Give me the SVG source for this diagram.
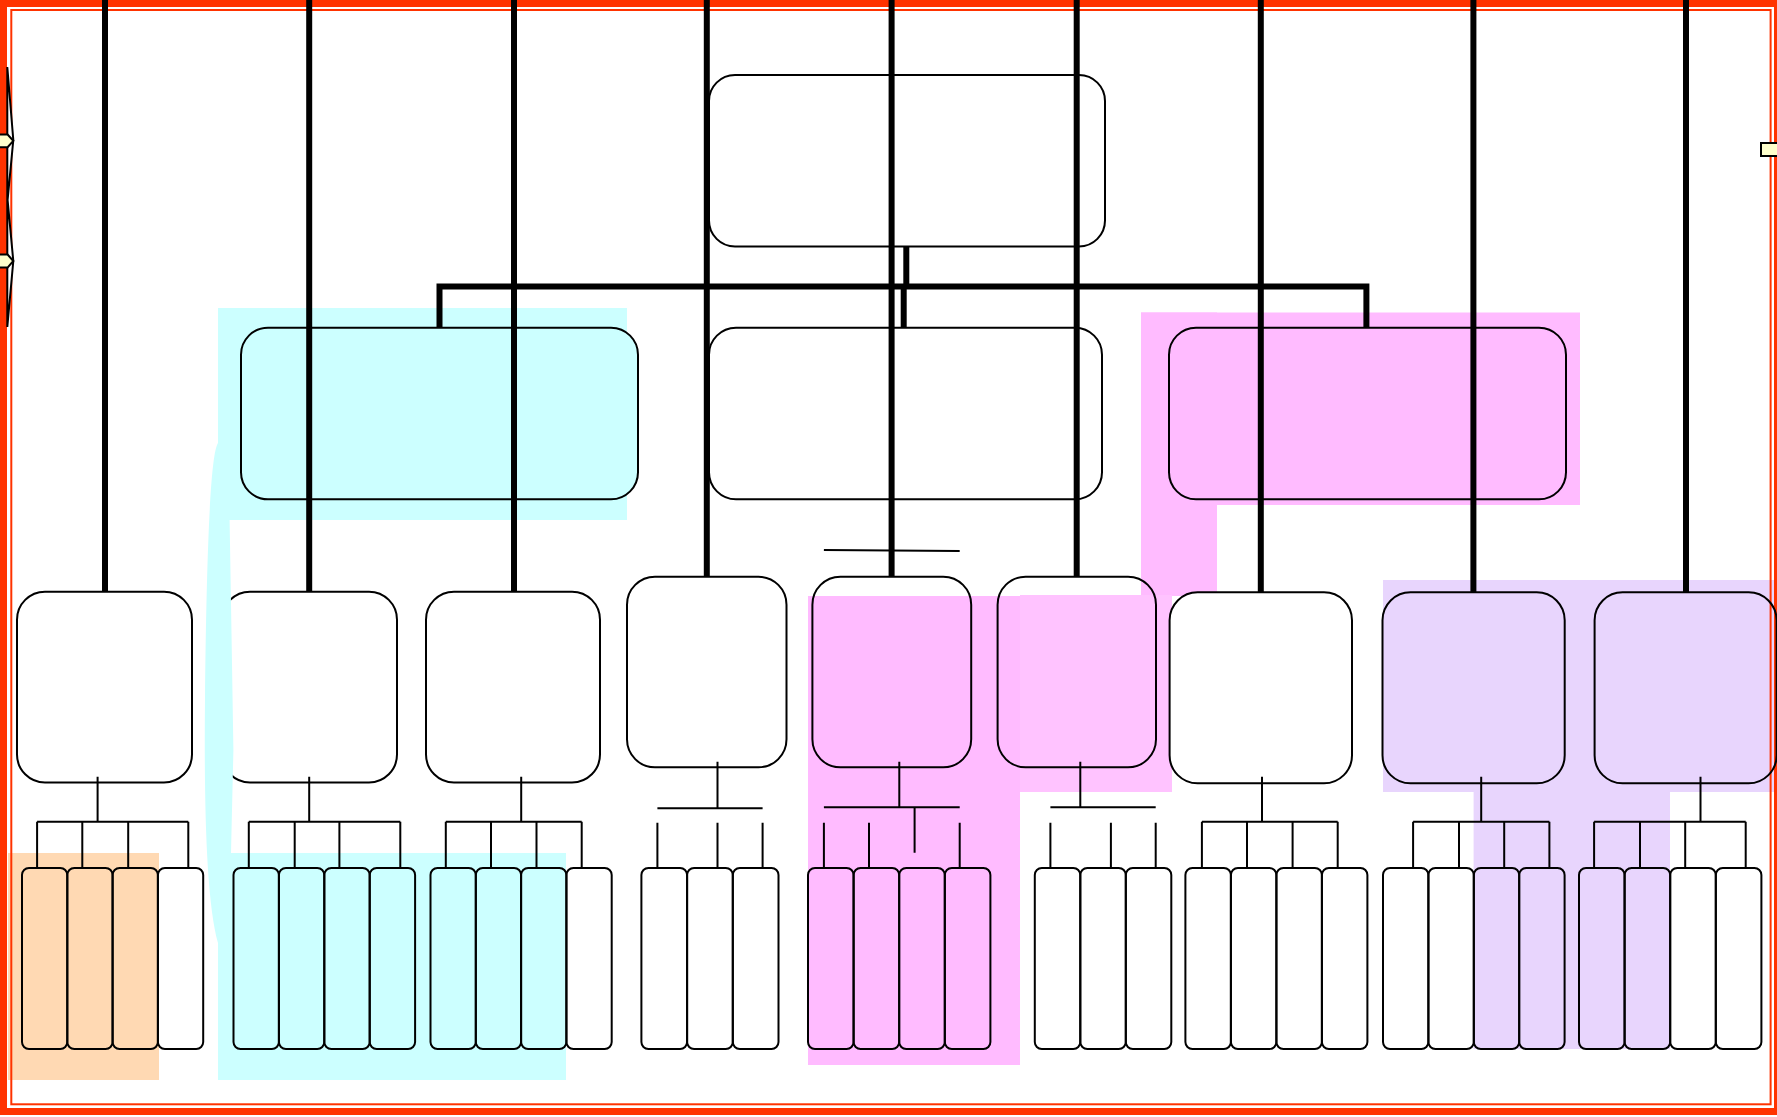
<svg xmlns="http://www.w3.org/2000/svg" width="1777" height="1117" viewBox="0 0 1777 1117">
<style>
.thick{stroke:#000;stroke-width:6;fill:none;stroke-linejoin:miter;stroke-linecap:butt}
.thin{stroke:#000;stroke-width:2;fill:none;stroke-linecap:butt}
.box{stroke:#000;stroke-width:2}
.w{fill:#fff}
.n{fill:none}
.cyan{fill:#CCFFFF}
.pink{fill:#FFBBFF}
.pink2{fill:#FFC3FF}
.lav{fill:#E8D5FD}
.peach{fill:#FFD9B3}
.tab{fill:#FFFFCC;stroke:#000;stroke-width:2}
</style>
<rect x="0" y="0" width="1777" height="1117" fill="#fff"/>
<g id="regions">
  <rect class="cyan" x="218" y="308" width="409" height="212"/>
  <rect class="cyan" x="218" y="853" width="348" height="227"/>
  <rect class="peach" x="8" y="853" width="151" height="227"/>
  <rect class="pink" x="1141" y="312.5" width="439" height="192.5"/>
  <rect class="pink" x="1141" y="312.5" width="76" height="283.5"/>
  <rect class="pink" x="808" y="596" width="212" height="469"/>
  <rect class="pink2" x="1020" y="595" width="152" height="197"/>
  <rect class="lav" x="1383" y="580" width="394" height="212"/>
  <rect class="lav" x="1473.6" y="580" width="196.4" height="469"/>
</g>
<g id="border">
  <rect x="3.5" y="3.5" width="1774" height="1108" fill="none" stroke="#FF3300" stroke-width="7"/>
  <rect x="11.3" y="10" width="1759.3" height="1094.3" fill="none" stroke="#FF3300" stroke-width="2"/>
</g>
<g id="root"><rect class="box w" x="709" y="75" width="396" height="171.5" rx="26"/></g>
<g id="l2-left"><rect class="box cyan" x="241" y="327.7" width="397" height="171.6" rx="27"/></g>
<g id="l2-mid"><rect class="box w" x="709" y="327.7" width="393" height="171.6" rx="27"/></g>
<g id="l2-right"><rect class="box pink" x="1169" y="327.7" width="397" height="171.6" rx="27"/></g>
<g id="n1"><rect class="box w" x="17" y="591.7" width="175" height="190.8" rx="28"/></g>
<g id="n2"><rect class="box w" x="222" y="591.7" width="175" height="190.8" rx="28"/></g>
<g id="n3"><rect class="box w" x="426" y="591.7" width="174" height="190.8" rx="28"/></g>
<g id="n4"><rect class="box w" x="627" y="576.7" width="159.5" height="190.6" rx="28"/></g>
<g id="n5"><rect class="box n" x="812.4" y="576.7" width="158.8" height="190.6" rx="28"/></g>
<g id="n6"><rect class="box n" x="997.6" y="576.7" width="158.4" height="190.6" rx="28"/></g>
<g id="n7"><rect class="box w" x="1169.6" y="592.3" width="182.4" height="191" rx="28"/></g>
<g id="n8"><rect class="box n" x="1382.5" y="592.3" width="182.2" height="191" rx="28"/></g>
<g id="n9"><rect class="box n" x="1594.6" y="592.3" width="182" height="191" rx="28"/></g>
<g id="leaves-1">
  <rect class="box n" x="22" y="868" width="45.3" height="181" rx="7"/>
  <rect class="box n" x="67.3" y="868" width="45.3" height="181" rx="7"/>
  <rect class="box n" x="112.6" y="868" width="45.3" height="181" rx="7"/>
  <rect class="box n" x="157.9" y="868" width="45.3" height="181" rx="7"/>
</g>
<g id="leaves-2">
  <rect class="box n" x="233.5" y="868" width="45.4" height="181" rx="7"/>
  <rect class="box n" x="278.9" y="868" width="45.4" height="181" rx="7"/>
  <rect class="box n" x="324.3" y="868" width="45.4" height="181" rx="7"/>
  <rect class="box n" x="369.7" y="868" width="45.4" height="181" rx="7"/>
</g>
<g id="leaves-3">
  <rect class="box n" x="430.5" y="868" width="45.3" height="181" rx="7"/>
  <rect class="box n" x="475.8" y="868" width="45.3" height="181" rx="7"/>
  <rect class="box n" x="521.1" y="868" width="45.3" height="181" rx="7"/>
  <rect class="box n" x="566.4" y="868" width="45.3" height="181" rx="7"/>
</g>
<g id="leaves-4">
  <rect class="box n" x="641.4" y="868" width="45.7" height="181" rx="7"/>
  <rect class="box n" x="687.1" y="868" width="45.7" height="181" rx="7"/>
  <rect class="box n" x="732.8" y="868" width="45.7" height="181" rx="7"/>
</g>
<g id="leaves-5">
  <rect class="box n" x="808" y="868" width="45.6" height="181" rx="7"/>
  <rect class="box n" x="853.6" y="868" width="45.6" height="181" rx="7"/>
  <rect class="box n" x="899.2" y="868" width="45.6" height="181" rx="7"/>
  <rect class="box n" x="944.8" y="868" width="45.6" height="181" rx="7"/>
</g>
<g id="leaves-6">
  <rect class="box n" x="1034.8" y="868" width="45.5" height="181" rx="7"/>
  <rect class="box n" x="1080.3" y="868" width="45.5" height="181" rx="7"/>
  <rect class="box n" x="1125.8" y="868" width="45.5" height="181" rx="7"/>
</g>
<g id="leaves-7">
  <rect class="box n" x="1185.4" y="868" width="45.5" height="181" rx="7"/>
  <rect class="box n" x="1230.9" y="868" width="45.5" height="181" rx="7"/>
  <rect class="box n" x="1276.4" y="868" width="45.5" height="181" rx="7"/>
  <rect class="box n" x="1321.9" y="868" width="45.5" height="181" rx="7"/>
</g>
<g id="leaves-8">
  <rect class="box n" x="1383" y="868" width="45.4" height="181" rx="7"/>
  <rect class="box n" x="1428.4" y="868" width="45.4" height="181" rx="7"/>
  <rect class="box n" x="1473.8" y="868" width="45.4" height="181" rx="7"/>
  <rect class="box n" x="1519.2" y="868" width="45.4" height="181" rx="7"/>
</g>
<g id="leaves-9">
  <rect class="box n" x="1579" y="868" width="45.6" height="181" rx="7"/>
  <rect class="box n" x="1624.6" y="868" width="45.6" height="181" rx="7"/>
  <rect class="box n" x="1670.2" y="868" width="45.6" height="181" rx="7"/>
  <rect class="box n" x="1715.8" y="868" width="45.6" height="181" rx="7"/>
</g>
<g id="region-cyan-bracket">
  <path class="cyan" d="M218,443 C210,455 206.5,560 205,700 C204,800 206,900 218,943 L218,853 L231,853 L233.4,750 L231.5,633 L229.6,520 L218,520 Z"/>
</g>
<g id="connectors">
  <line class="thick" x1="105" y1="0" x2="105" y2="591.7"/>
  <line class="thick" x1="309.2" y1="0" x2="309.2" y2="591.7"/>
  <line class="thick" x1="514" y1="0" x2="514" y2="591.7"/>
  <line class="thick" x1="706.8" y1="0" x2="706.8" y2="576.7"/>
  <line class="thick" x1="891.6" y1="0" x2="891.6" y2="576.7"/>
  <line class="thick" x1="1076.7" y1="0" x2="1076.7" y2="576.7"/>
  <line class="thick" x1="1260.8" y1="0" x2="1260.8" y2="592.3"/>
  <line class="thick" x1="1473.4" y1="0" x2="1473.4" y2="592.3"/>
  <line class="thick" x1="1686" y1="0" x2="1686" y2="592.3"/>
  <path class="thick" d="M439.5,327.7 L439.5,286.4 L1366.4,286.4 L1366.4,327.7"/>
  <line class="thick" x1="906.3" y1="246" x2="906.3" y2="286.4"/>
  <line class="thick" x1="903.7" y1="286.4" x2="903.7" y2="327.2"/>
  <line class="thin" x1="823.9" y1="550" x2="959.7" y2="551"/>
  <path class="thin" d="M97.6,776.7 V821.7 M37.1,821.7 H188.3 M37.1,821.7 V868 M82.3,821.7 V868 M128.2,821.7 V868 M188.3,821.7 V868"/>
  <path class="thin" d="M309.2,776.7 V821.7 M248.8,821.7 H400.3 M248.8,821.7 V868 M294.7,821.7 V868 M339.4,821.7 V868 M400.3,821.7 V868"/>
  <path class="thin" d="M521.2,776.7 V821.7 M445.8,821.7 H581.7 M445.8,821.7 V868 M491,821.7 V868 M536.5,821.7 V868 M581.7,821.7 V868"/>
  <path class="thin" d="M717.5,761.7 V808.3 M657.4,808.3 H762.6 M657.4,822.7 V868 M717.5,822.7 V868 M762.6,822.7 V868"/>
  <path class="thin" d="M899.3,761.7 V807.3 M823.9,807.3 H959.7 M914.6,807.3 V852.7 M823.9,822.7 V868 M869,822.7 V868 M959.7,822.7 V868"/>
  <path class="thin" d="M1080.3,761.7 V807.3 M1050.4,807.3 H1155.7 M1050.4,822.7 V868 M1110.9,822.7 V868 M1155.7,822.7 V868"/>
  <path class="thin" d="M1262,776.7 V821.7 M1201.9,821.7 H1337.7 M1201.9,821.7 V868 M1247,821.7 V868 M1292.6,821.7 V868 M1337.7,821.7 V868"/>
  <path class="thin" d="M1481.2,776.7 V821.7 M1413.1,821.7 H1549.4 M1413.1,821.7 V868 M1459,821.7 V868 M1504.2,821.7 V868 M1549.4,821.7 V868"/>
  <path class="thin" d="M1700.5,776.7 V821.7 M1594.1,821.7 H1745.7 M1594.1,821.7 V868 M1640,821.7 V868 M1685.2,821.7 V868 M1745.7,821.7 V868"/>
</g>
<g id="tabs">
  <path d="M7.3,67 L13.3,140 L7.6,200 L13.3,261 L7.3,327 Z" fill="#fff" stroke="#000" stroke-width="2" stroke-linejoin="miter"/>
  <polygon class="tab" points="-3,134.5 7.6,134.5 13.3,140.8 7.6,147.2 -3,147.2"/>
  <polygon class="tab" points="-3,254.5 7.6,254.5 13.3,261 7.6,267.6 -3,267.6"/>
  <rect class="tab" x="1761" y="143" width="20" height="13"/>
</g>
</svg>
